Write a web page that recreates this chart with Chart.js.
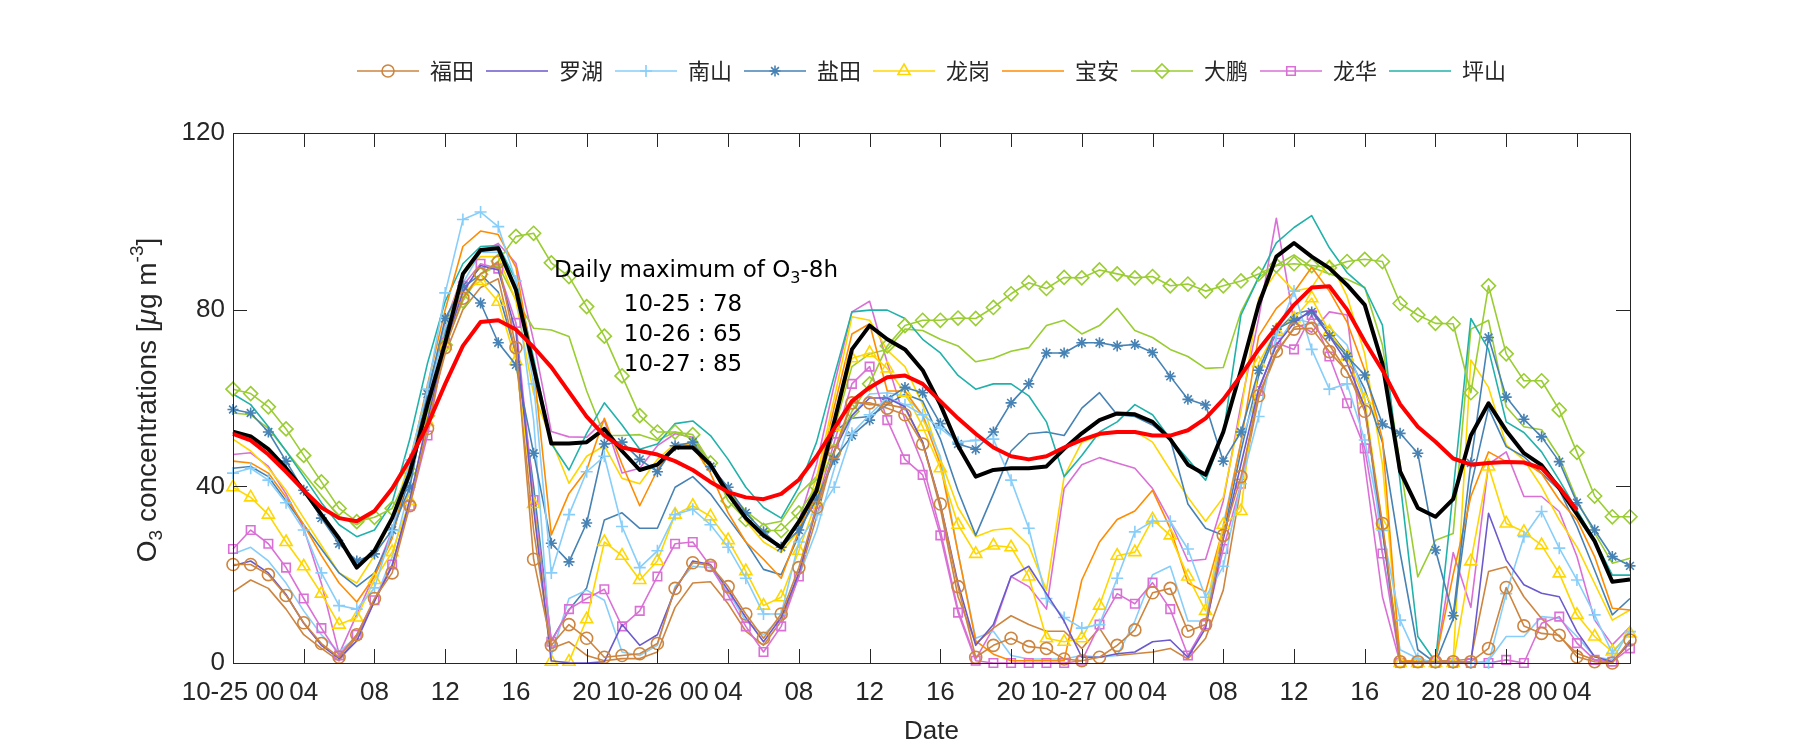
<!DOCTYPE html>
<html><head><meta charset="utf-8">
<script src="https://cdn.jsdelivr.net/npm/chart.js@4.4.0/dist/chart.umd.min.js"></script>
<style>html,body{margin:0;padding:0;background:#fff;}#wrap{width:1800px;height:750px;}</style>
</head><body><div id="wrap"><canvas id="c" width="1800" height="750"></canvas></div>
<script>
// ---------- data ----------
const days = ['10-25','10-26','10-27','10-28'];
const xTickLabels = ['10-25 00','04','08','12','16','20','10-26 00','04','08','12','16','20','10-27 00','04','08','12','16','20','10-28 00','04'];
const yTickValues = [0,40,80,120];
const stations = ['福田','罗湖','南山','盐田','龙岗','宝安','大鹏','龙华','坪山'];
const annotDays = ['10-25','10-26','10-27'];
const annotMax = [78,65,85];

const futian = [22.3,22.3,20,15.3,9.1,4.4,1.3,6.4,14.6,20.4, 35.6,53.1,71.4,82.6,88.1,90.8,71.4,23.5,4,8.7, 5.6,1.3,1.7,2.1,4.4,16.9,22.7,22.1,17.3,11.1, 5.6,11.1,21.6,35.2,47.6,58.9,58.9,57.7,56.2,49.6, 36,17.3,1.3,4,5.6,3.7,3.3,0.9,0.5,1.3, 4,7.5,15.9,16.9,7.2,8.7,28.9,42.2,60.5,70.6, 75.6,75.8,70.5,66,57,31.6,0.3,0.3,0.3,0.3, 0.3,3.3,17.1,8.4,6.7,6.3,1.4,0.3,0,5.2];
const futianB = [16.1,18.8,16.9,12.2,6.4,3.3,0.5,6,14,22, 37,55,70,80,85,87,70,30,3.3,4.8, 1.7,0.5,1,1,2.5,12.6,18.1,18.4,13.4,7.2, 4,9.5,19.6,33,48,59.3,58.5,58.5,57.7,50, 35,15,4.4,7.9,10.7,8.7,7.2,7.2,3.3,7.9, 1.7,2.1,2.5,3.3,0.9,5.6,16.5,40,60,70, 76,77,72,66,58,30,0.5,0.5,0.5,0.5, 0.9,20.7,21.8,15,10.1,6,2.2,0.7,0.3,4.5];
const luohu = [22,23.1,20.4,15.5,9,4,1,5,14,22, 37,55,72,84,90,89,75,35,0.5,0, 0,0.3,8.7,4,6.4,16.5,23.1,22.3,16.5,10.3, 4.8,10.3,20.4,35,48,56,60,60,58,50, 36,18,4,8.7,19.6,21.9,15.7,9.5,1.3,1.3, 2.1,2.5,4.8,5.2,1.3,7.9,28,45,62,72, 77,80,74,68,58,30,0,0,0,0, 0,33.9,23.3,17.7,15.8,15,7.1,1.4,0.3,4.8];
const nanshan = [43,44.1,41.4,36.3,30.1,20.4,13,12.2,17,30, 46,62,83.8,100.4,102.1,98.8,86.5,63.2,20.4,33.6, 43.3,46.8,30.9,21.6,25.4,33.6,34.8,31.3,26.2,19.2, 11.1,11.1,27.4,33.6,39.8,52,56.2,60.1,58.5,56.2, 53.1,50,50.4,50.7,41.4,30.5,14.6,10.3,7.9,8.7, 19.2,29.7,32.1,32.1,25.8,14.9,21.9,40.6,55.8,74.1, 84.2,71,62,63.2,50.5,30,9.7,1,0,0, 0,0,15.7,28.6,34.3,26,18.8,10.9,2.2,7.1];
const nanshanB = [24.7,26.2,23.1,18.1,11.8,6.4,2.5,6,14,24, 40,60,76,86,93,93,85,55,1.7,14.6, 16.5,14.2,2.5,1.7,4,17.3,21.9,21.6,16.1,9.5, 6.4,10.3,19.6,30,44,56,60.9,61.2,60.5,56.2, 46.8,25,5.6,7.2,1.7,0.9,0.9,0.9,1.7,1.3, 1.7,9.5,20,21.9,9.5,9.5,31.3,50,62,72, 78,77,76,72,60,25,3,1,0,0, 0,0.5,6,6,10.5,10.1,6,1.4,0.7,7.5];
const yantian = [57.4,56.6,52.3,45.7,39.1,32.8,27,23.1,24.7,30.1, 39.8,60.9,78,85.4,81.5,72.5,67.5,47.5,27.1,22.9, 31.7,49.6,50,46.1,43.3,49.2,50,44.5,39.8,34, 29.7,26.2,30.1,37,46.1,51.5,55,59.7,62.4,61.2, 54.2,49.6,48.4,52.3,58.9,63.2,70.2,70.2,72.5,72.5, 71.8,72.1,70.3,64.9,59.7,58.4,45.7,52.3,66.3,75.6, 77.6,79.5,74.1,69.4,65.2,54.1,52,47.5,25.6,10.7, 45.3,73.7,60.2,55.2,51.2,45.6,36.3,30.1,24.1,22];
const yantianB = [44.1,44.5,42.2,36.7,31.3,25.8,20.4,17.3,20.4,28.9, 42.2,62,75,85,88,84,70,40,5,12, 17,32.4,34,30.5,30.5,39.8,42.2,38.3,32.8,27.4, 21.2,20,28.9,39,52.3,55.4,55.8,58.5,60.9,59.3, 50.7,39,28.9,38.3,48,51.9,52.3,51.5,57.7,61.2, 56.2,55.8,53.9,50.7,36,30.5,28.9,48,65,75, 79,80,75,70,62,50,25,3,0,10, 40,57.7,49,46.7,43,39.2,30.9,21,10.9,14.6];
const longgang = [39.8,37.5,33.6,27.4,21.9,15.7,8.7,10.3,18.8,25.1, 36.7,54.6,71.8,84,86.5,81.8,68.4,36,0.3,0.3, 9.9,27.4,24.3,18.8,23.1,33.6,35.6,33.2,27.8,20.8, 13,14.9,25.4,36.7,53.5,69,70.2,66.7,61.2,53.5, 44.1,31.3,24.7,26.6,26.2,19.6,5.6,4.8,5.6,13, 24.3,25.1,32.5,28.9,19.6,11.8,31.3,34.4,67.9,75.3, 78,82.6,75,69.4,59.5,31.2,0,0,0,0, 23,44.5,31.6,29.7,26.7,20.3,10.9,6,2.6,6.7];
const longgangB = [50.7,48,44.1,39.1,32.8,26.6,20.4,18.1,24.3,32.8, 46,62,76,88,92,92,82,61,50.5,40.7, 46.8,49.2,41.8,40.6,46.1,49.6,49.6,44.5,39.1,32.1, 27.4,25,30,42,60,78.4,77.6,70.8,67.1,58.5, 46.1,35.2,28.6,30.1,30.5,26.6,16.5,42.2,50,51.5, 52.5,52.5,50,43.7,37.5,32.1,37.5,57,82.6,88.5, 84.2,85,91.2,83,70,45,0.5,0.5,0.5,0.5, 68.6,62.4,49.4,46,39.9,32.4,26.3,18,9.7,12];
const baoan = [45.7,45.3,43,37.5,31.3,24.3,18.1,13.8,19.6,28.2, 45,63,80,94.3,97.8,97,89.6,67,29,38.4, 43.7,55.4,45,35.6,43.7,49.6,49.2,43,34,27.4, 23.5,19.2,30,40,58,74.5,76.8,61.6,61.6,56, 45,25,5,2,0.5,0.5,0.5,0.5,18.8,27.4, 32.5,34.4,39.1,30.5,18.1,16.1,30.5,50,74,80.3, 84,89.6,84.2,77.2,66.3,50.7,0.5,0.5,0.5,20, 37.7,47.8,45.6,45.6,42.9,36.9,32.4,24.1,12.4,12];
const dapeng = [62,61,58,53,47,41,35,32,33,35, 43.5,56,72,82,88,91,96.6,97.3,90.6,87.5, 80.7,74,65,56,52.3,52.3,51.7,45.3,36.7,32.5, 30,30,34,40,48,57,63.2,71.8,76.4,77.6, 77.6,78.1,78,80.5,83.6,86.1,84.8,87.3,87.2,89, 88.1,87.2,87.5,85.4,85.8,84.2,85.4,86.5,88.1,90, 90.4,90,89.5,90.9,91.4,90.9,81.4,78.8,76.9,76.8, 61.2,85.4,70,63.9,63.9,57.3,47.7,37.8,33.1,33.1];
const dapengB = [56.6,56.2,53.1,48,43,37.9,33.2,31.3,34,39, 45.3,62,75,83,88,90,82.2,75.8,75.4,73.9, 61.6,51.5,51.5,51.7,50.4,52.3,50.7,44.9,39.1,34.4, 31.3,32.1,38.3,42.2,53,67.1,70,71,75.6,75.3, 73.3,71.8,68.2,69,70.6,71.4,76.4,77.6,74.5,76.4, 80.3,75.3,73.7,71,69.4,66.7,66.9,79.5,87.3,90, 92.4,89.6,88.1,86.9,85,72,45,19.5,27.8,29.3, 75.6,77.6,58,53.5,52.8,46.7,36.9,29.4,22.6,23.7];
const longhua = [25.8,30.1,27,21.6,14.6,7.9,1.7,6.4,14.2,22.3, 35.6,51.5,72.5,85.4,90.4,89.3,77,36.9,4.8,12.2, 14.6,16.7,8.3,11.8,19.6,27,27.4,21.9,15.3,8.3, 2.5,8.3,19.6,36,50,63.2,67.1,55,46.1,42.6, 28.9,11.4,0.5,0,0,0,0,0,0.5,8.7, 15.7,13.4,18.2,12.2,1.7,8.7,25.8,40.6,61.6,72.5, 71,78.8,69.4,58.8,48.6,24.8,0,0,0,0, 0,0,0.7,0,9,10.5,4.5,0.7,0.3,3.3];
const longhuaB = [47.2,47.6,44.5,38.3,30.5,18,2,11,20,30, 45,60,77,88,93,95,90.5,73,52.4,51.2, 51.1,55,43,44.1,49.2,51.9,51.1,44.9,39.5,33.2, 28.9,26.2,32.1,45,63,79.5,81.9,68,55,45, 30,12,0.9,7.9,19.6,17.3,12.2,39.5,44.9,46.5, 45.3,44.1,39.5,32.1,23.1,23.5,36.7,58.5,78,100.7, 77.2,74.9,79.5,78.8,45,15,0,0,0,25, 12.6,45,47.8,37.7,37.7,34.3,24.1,9.7,4.1,8.2];
const pingshan = [60.9,58.5,53.5,48,42.2,36.3,31.3,28.6,30.1,36.3, 50.7,67.9,81.9,90.4,94.3,94.5,86.7,69,49.7,43.7, 52,58.9,53.9,48.4,49.6,54.2,54.8,51.5,46.1,39.8, 35.2,32.8,39.8,50,65,79.5,79.9,79.9,78,73.3, 70.2,65.1,62,63.2,63.2,60.5,54.6,42.2,47,52.3, 54.6,58.5,56.2,50.7,46.1,41.4,51.9,78.8,87.3,95.1, 98.6,101.3,94,88.4,84.9,76.5,41,6,0.3,39, 78,71,54.6,52.2,47.8,41.4,34.6,27.8,19.9,19.9];
const cityMean = [52.4,51.3,48.4,44.1,39.1,33.6,28.2,21.6,25.4,32.8, 43,58.5,72.5,88.1,93.5,93.9,84.5,67,49.7,49.7, 50,53,48,43.7,44.9,48.8,48.8,44.9,38.3,32.8, 28.9,26.2,32,39,54.6,71,76.4,73.3,71,66.3, 58.5,49.2,42.2,43.7,44.1,44.1,44.5,48.5,52,55, 56.5,56.3,54.6,50.7,44.9,42.6,52.3,66.3,81.1,92, 95.1,92,89.4,85.6,81.1,67.8,43.4,35.1,33.1,37.1, 51.5,58.8,52.6,47.5,44.8,39.6,33.7,27.6,18.4,18.9];
const o3_8h = [51.9,50.4,47.2,43.3,39.1,35.2,32.8,32.1,34.4,39.5, 46.1,53.9,63.2,71.8,77.2,77.6,75.5,71.5,67,61.4, 55.8,51.5,48.8,48,47.2,45.7,43.7,41,38.7,37.5, 37.1,38.3,41.5,46.8,53.1,59.3,62.4,64.7,65.1,63.2, 59.3,55.4,51.9,48.8,46.8,46.1,46.8,48.8,50.5,51.9, 52.3,52.3,51.5,51.5,52.7,55.4,59.7,65.1,71,76, 81.1,85,85.3,80,72.8,66.3,58.6,53.5,50.1,46.3, 44.9,45.3,45.5,45.4,44.1,39.8,34.6,null,null,null];

// ---------- styles ----------
const colors = ['#CD853F','#6A5ACD','#87CEFA','#4682B4','#FFD700','#FF8C00','#9ACD32','#DA70D6','#20B2AA'];
const markers = ['circle',false,'cross','star','triangle',false,'rectRot','rect',false];
const markerR = {circle:6, cross:6, star:5.5, triangle:7, rectRot:7, rect:6};
const mainSeries = [futian, luohu, nanshan, yantian, longgang, baoan, dapeng, longhua, pingshan];
const extraSeries = [[futianB,0],[nanshanB,2],[yantianB,3],[longgangB,4],[dapengB,6],[longhuaB,7]];

const timeLabels = [];
for (let i = 0; i < futian.length; i++) {
  const h = i % 24;
  timeLabels.push(days[Math.floor(i/24)] + ' ' + String(h).padStart(2,'0'));
}

const TXT = '#262626';
const datasets = [];
mainSeries.forEach((d, i) => {
  const m = markers[i];
  datasets.push({
    label: stations[i], data: d, borderColor: colors[i], borderWidth: 1.6,
    pointStyle: m || 'circle', pointRadius: m ? markerR[m] : 0,
    pointBorderColor: colors[i], pointBackgroundColor: 'rgba(0,0,0,0)', pointBorderWidth: 1.6,
    tension: 0, fill: false, clip: false, order: 2
  });
});
extraSeries.forEach(([d, ci]) => {
  datasets.push({
    label: stations[ci] + ' 2', data: d, borderColor: colors[ci], borderWidth: 1.6,
    pointRadius: 0, tension: 0, fill: false, order: 3
  });
});
datasets.push({label: 'mean', data: cityMean, borderColor: '#000000', borderWidth: 4, pointRadius: 0, tension: 0, fill: false, order: 1});
datasets.push({label: 'O3-8h', data: o3_8h, borderColor: '#FF0000', borderWidth: 4, pointRadius: 0, tension: 0, fill: false, order: 0, spanGaps: false});

// ---------- legend sample images ----------
function drawMarker(ctx, style, x, y, r) {
  ctx.beginPath();
  if (style === 'circle') { ctx.arc(x, y, r, 0, Math.PI*2); }
  else if (style === 'cross') { ctx.moveTo(x-r,y); ctx.lineTo(x+r,y); ctx.moveTo(x,y-r); ctx.lineTo(x,y+r); }
  else if (style === 'star') { ctx.moveTo(x-r,y); ctx.lineTo(x+r,y); ctx.moveTo(x,y-r); ctx.lineTo(x,y+r);
    const q = r*Math.SQRT1_2; ctx.moveTo(x-q,y-q); ctx.lineTo(x+q,y+q); ctx.moveTo(x-q,y+q); ctx.lineTo(x+q,y-q); }
  else if (style === 'triangle') { for (let k=0;k<3;k++){ const a = -Math.PI/2 + k*2*Math.PI/3; const px = x + r*Math.cos(a), py = y + r*Math.sin(a); k?ctx.lineTo(px,py):ctx.moveTo(px,py);} ctx.closePath(); }
  else if (style === 'rectRot') { ctx.moveTo(x,y-r); ctx.lineTo(x+r,y); ctx.lineTo(x,y+r); ctx.lineTo(x-r,y); ctx.closePath(); }
  else if (style === 'rect') { const s = r*Math.SQRT1_2; ctx.rect(x-s,y-s,2*s,2*s); }
  ctx.stroke();
}
function legendImg(i) {
  const c = document.createElement('canvas'); c.width = 62; c.height = 24;
  const g = c.getContext('2d');
  g.strokeStyle = colors[i]; g.lineWidth = 1.6;
  g.beginPath(); g.moveTo(0,12); g.lineTo(62,12); g.stroke();
  if (markers[i]) drawMarker(g, markers[i], 31, 12, markerR[markers[i]]);
  return c;
}
const legendImgs = stations.map((s, i) => legendImg(i));

// ---------- helper for rich text ----------
function drawRich(ctx, pieces, x, y, align) {
  let total = 0;
  for (const p of pieces) { ctx.font = p.font; p.w = ctx.measureText(p.text).width; total += p.w; }
  let cx = align === 'center' ? x - total/2 : x;
  ctx.textBaseline = 'middle'; ctx.textAlign = 'left';
  for (const p of pieces) { ctx.font = p.font; ctx.fillText(p.text, cx, y + (p.dy || 0)); cx += p.w; }
}

const framePlugin = {
  id: 'frame',
  afterDraw(chart) {
    const {ctx, chartArea: a, scales: {x, y}} = chart;
    ctx.save();
    ctx.strokeStyle = TXT; ctx.lineWidth = 1;
    ctx.strokeRect(Math.round(a.left)+0.5, Math.round(a.top)+0.5, Math.round(a.right-a.left), Math.round(a.bottom-a.top));
    const TL = 14;
    ctx.beginPath();
    for (let i = 0; i < xTickLabels.length; i++) {
      const px = Math.round(x.getPixelForValue(i*4)) + 0.5;
      ctx.moveTo(px, a.bottom); ctx.lineTo(px, a.bottom - TL);
      ctx.moveTo(px, a.top); ctx.lineTo(px, a.top + TL);
    }
    for (const v of yTickValues) {
      const py = Math.round(y.getPixelForValue(v)) + 0.5;
      ctx.moveTo(a.left, py); ctx.lineTo(a.left + TL, py);
      ctx.moveTo(a.right, py); ctx.lineTo(a.right - TL, py);
    }
    ctx.stroke();
    // y-axis title with sub/superscripts
    const F = '"Liberation Sans", Arial, sans-serif';
    ctx.fillStyle = TXT;
    ctx.save();
    ctx.translate(148, (a.top + a.bottom)/2 + 2);
    ctx.rotate(-Math.PI/2);
    drawRich(ctx, [
      {text:'O', font:'28px '+F},
      {text:'3', font:'19px '+F, dy:9},
      {text:' concentrations [', font:'28px '+F},
      {text:'\u03BC', font:'italic 28px '+F},
      {text:'g m', font:'28px '+F},
      {text:'-3', font:'19px '+F, dy:-10},
      {text:']', font:'28px '+F}
    ], 0, 0, 'center');
    ctx.restore();
    // annotation
    const AF = '"DejaVu Sans", sans-serif';
    ctx.fillStyle = '#000000';
    drawRich(ctx, [
      {text:'Daily maximum of O', font:'23px '+AF},
      {text:'3', font:'16px '+AF, dy:8},
      {text:'-8h', font:'23px '+AF}
    ], 554, 271, 'left');
    for (let i = 0; i < annotDays.length; i++) {
      drawRich(ctx, [{text: annotDays[i] + ' : ' + annotMax[i], font:'23px '+AF}], 683, 305 + i*30, 'center');
    }
    ctx.restore();
  }
};

const TF = {family: '"Liberation Sans", Arial, sans-serif', size: 26};
new Chart(document.getElementById('c'), {
  type: 'line',
  data: {labels: timeLabels, datasets},
  options: {
    responsive: false, animation: false, devicePixelRatio: 1,
    layout: {padding: {top: 48, right: 170, left: 0, bottom: 0}},
    elements: {line: {borderJoinStyle: 'round'}},
    plugins: {
      tooltip: {enabled: false},
      title: {display: true, text: '', weight: 100, padding: {top: 0, bottom: 31}, font: {size: 10, lineHeight: 1}},
      legend: {
        display: true, position: 'top', fullSize: false, weight: 3000,
        labels: {
          usePointStyle: true, pointStyleWidth: 62, padding: 12,
          font: {family: '"Noto Sans CJK SC", sans-serif', size: 22}, color: TXT,
          generateLabels: () => stations.map((s, i) => ({
            text: s, pointStyle: legendImgs[i], fillStyle: colors[i], strokeStyle: colors[i],
            lineWidth: 0, hidden: false, datasetIndex: i, fontColor: TXT
          }))
        }
      }
    },
    scales: {
      x: {
        type: 'category', offset: false,
        grid: {display: false, drawTicks: false}, border: {display: false},
        ticks: {autoSkip: false, maxRotation: 0, minRotation: 0, padding: 14, font: TF, color: TXT,
          callback: (v, i) => (i % 4 === 0 ? xTickLabels[i/4] : '')},
        title: {display: true, text: 'Date', font: TF, color: TXT, padding: {top: 0, bottom: 3}},
        afterFit: s => { s.height = 87; }
      },
      y: {
        min: 0, max: 120,
        grid: {display: false, drawTicks: false}, border: {display: false},
        ticks: {stepSize: 40, padding: 8, font: TF, color: TXT},
        afterFit: s => { s.width = 233; }
      }
    }
  },
  plugins: [framePlugin]
});
</script></body></html>
